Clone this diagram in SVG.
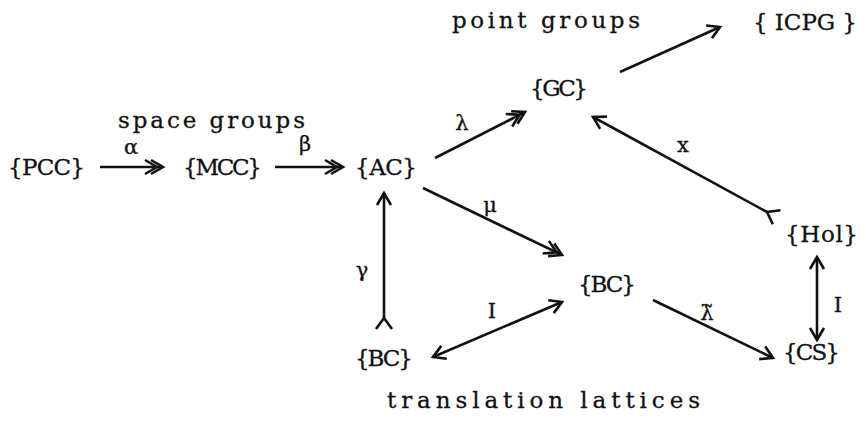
<svg xmlns="http://www.w3.org/2000/svg" width="866" height="424" viewBox="0 0 866 424">
<style>
text{font-family:"DejaVu Serif","Liberation Serif",serif;font-size:23px;fill:#111;stroke:#111;stroke-width:0.3}
.lab{font-size:21px;text-anchor:middle}
.c line{stroke:#111;stroke-width:2.6;fill:none}
</style>
<defs>
<marker id="h" markerUnits="userSpaceOnUse" viewBox="-16 -10 20 20" markerWidth="20" markerHeight="20" refX="0" refY="0" orient="auto-start-reverse">
<path d="M-12,-7 L0,0 L-12,7" fill="none" stroke="#111" stroke-width="2.6"/>
</marker>
<marker id="dh" markerUnits="userSpaceOnUse" viewBox="-22 -10 26 20" markerWidth="26" markerHeight="20" refX="0" refY="0" orient="auto">
<path d="M-18,-7 L-6,0 L-18,7 M-12,-7 L0,0 L-12,7" fill="none" stroke="#111" stroke-width="2.6"/>
</marker>
<marker id="t" markerUnits="userSpaceOnUse" viewBox="-16 -12 20 24" markerWidth="20" markerHeight="24" refX="0" refY="0" orient="auto">
<path d="M0,0 L-11,-8 M0,0 L-11,8" fill="none" stroke="#111" stroke-width="2.6"/>
</marker>
</defs>
<g id="labels-sets">
<text x="118" y="128" textLength="187" lengthAdjust="spacing">space groups</text>
<text x="452" y="28" textLength="188" lengthAdjust="spacing">point groups</text>
<text x="387" y="408" textLength="313" lengthAdjust="spacing">translation lattices</text>
</g>
<g id="PCC"><text x="8" y="175" textLength="77" lengthAdjust="spacing">{PCC}</text></g>
<g id="MCC"><text x="183" y="175" textLength="79" lengthAdjust="spacing">{MCC}</text></g>
<g id="AC"><text x="355" y="175" textLength="62" lengthAdjust="spacing">{AC}</text></g>
<g id="GC"><text x="530" y="96" textLength="58" lengthAdjust="spacing">{GC}</text></g>
<g id="ICPG"><text x="753" y="30" textLength="104" lengthAdjust="spacing">{ ICPG }</text></g>
<g id="Hol"><text x="785" y="242" textLength="73" lengthAdjust="spacing">{Hol}</text></g>
<g id="BC2"><text x="578" y="292" textLength="58" lengthAdjust="spacing">{BC}</text></g>
<g id="BC1"><text x="355" y="366" textLength="58" lengthAdjust="spacing">{BC}</text></g>
<g id="CS"><text x="783" y="360" textLength="57" lengthAdjust="spacing">{CS}</text></g>
<g id="connectors" class="c">
<line x1="100" y1="167" x2="163" y2="167" marker-end="url(#dh)"/>
<line x1="275" y1="167" x2="343" y2="167" marker-end="url(#dh)"/>
<line x1="435" y1="158" x2="525" y2="112" marker-end="url(#dh)"/>
<line x1="620" y1="72" x2="720" y2="27" marker-end="url(#h)"/>
<line x1="767" y1="212" x2="593" y2="117" marker-start="url(#t)" marker-end="url(#h)"/>
<line x1="817" y1="257" x2="817" y2="340" marker-start="url(#h)" marker-end="url(#h)"/>
<line x1="653" y1="300" x2="773" y2="358" marker-end="url(#h)"/>
<line x1="384" y1="318" x2="384" y2="193" marker-start="url(#t)" marker-end="url(#h)"/>
<line x1="433" y1="357" x2="562" y2="302" marker-start="url(#h)" marker-end="url(#h)"/>
<line x1="423" y1="188" x2="562" y2="255" marker-end="url(#dh)"/>
<text class="lab" x="131" y="154">α</text>
<text class="lab" x="305" y="151">β</text>
<text class="lab" x="462" y="130">λ</text>
<text class="lab" x="683" y="152">x</text>
<text class="lab" x="838" y="312">I</text>
<text class="lab" x="707" y="320">λ̃</text>
<text class="lab" x="362" y="277">γ</text>
<text class="lab" x="492" y="318">I</text>
<text class="lab" x="490" y="212">μ</text>
</g>
</svg>
